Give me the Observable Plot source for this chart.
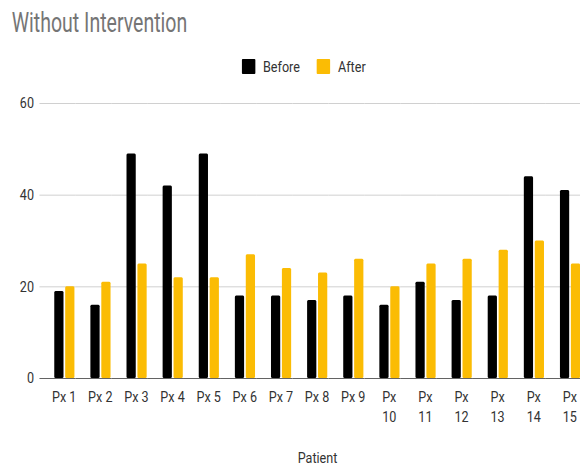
<!DOCTYPE html>
<html><head><meta charset="utf-8">
<script src="https://cdn.jsdelivr.net/npm/d3@7"></script>
<script src="https://cdn.jsdelivr.net/npm/@observablehq/plot@0.6"></script>
<style>
html,body{margin:0;padding:0;background:#fff;overflow:hidden;}
#wrap{position:relative;width:580px;height:466px;overflow:hidden;background:#fff;}
#scaled{position:absolute;left:0;top:0;width:692px;height:466px;transform:scaleX(0.84);transform-origin:0 0;}
#chart{position:absolute;left:0;top:0;}
.txt{position:absolute;font-family:Roboto,"Liberation Sans",sans-serif;white-space:nowrap;}
#title{left:14.3px;top:9px;font-size:28px;line-height:28px;color:#757575;transform:scaleX(0.83);transform-origin:0 0;}
#legend{position:absolute;left:0;top:0;}
.sw{position:absolute;width:15.5px;height:15px;border-radius:1px;}
.lg{font-size:15px;line-height:15px;color:#333;}
#xlab{font-size:15px;line-height:15px;color:#333;top:451px;left:278px;width:200px;text-align:center;}
</style></head>
<body><div id="wrap"><div id="scaled">
<div id="chart"></div>
<div id="title" class="txt">Without Intervention</div>
<div id="legend"></div>
<div id="xlab" class="txt">Patient</div>
</div></div>
<script>
const patients = ["Px 1","Px 2","Px 3","Px 4","Px 5","Px 6","Px 7","Px 8","Px 9","Px 10","Px 11","Px 12","Px 13","Px 14","Px 15"];
const tickLabels = ["Px 1","Px 2","Px 3","Px 4","Px 5","Px 6","Px 7","Px 8","Px 9","Px\n10","Px\n11","Px\n12","Px\n13","Px\n14","Px\n15"];
const before = [19,16,49,42,49,18,18,17,18,16,21,17,18,44,41];
const after = [20,21,25,22,22,27,24,23,26,20,25,26,28,30,25];
const series = ["Before","After"];
const colors = ["#000000","#fbbc04"];
const yTicks = [0,20,40,60];

const rows = patients.flatMap((p, i) => [
  {patient: p, label: tickLabels[i], series: series[0], value: before[i]},
  {patient: p, label: tickLabels[i], series: series[1], value: after[i]}
]);

const font = 'Roboto,"Liberation Sans",sans-serif';

const chart = Plot.plot({
  width: 692,
  height: 466,
  marginTop: 103,
  marginBottom: 88,
  marginLeft: 46.4,
  marginRight: 0,
  style: {fontFamily: font, fontSize: "15px", color: "#333", background: "transparent", overflow: "visible"},
  facet: {data: rows, x: "patient"},
  fx: {domain: patients, padding: 0, axis: null, label: null},
  x: {domain: series, range: [63.45, 87.26], paddingInner: 2/11, paddingOuter: 0, axis: null},
  y: {domain: [0, 60], ticks: yTicks, tickSize: 0, tickPadding: 7, label: null},
  color: {domain: series, range: colors},
  marks: [
    Plot.ruleY(yTicks.filter(v => v > 0), {stroke: "#cccccc"}),
    Plot.barY(rows, {x: "series", y: "value", fill: "series", rx: 1.5}),
    Plot.ruleY([0], {stroke: "#555"}),
    Plot.text(rows, {filter: d => d.series === series[0], text: "label", frameAnchor: "bottom", lineAnchor: "top", dy: 9, dx: 7.4, lineHeight: 1.333, fill: "#333"})
  ]
});
document.getElementById("chart").appendChild(chart);

const legend = document.getElementById("legend");
const lx = [288.1, 377.4];
series.forEach((s, i) => {
  const sw = document.createElement("div");
  sw.className = "sw";
  sw.style.left = lx[i] + "px";
  sw.style.top = "59px";
  sw.style.background = colors[i];
  legend.appendChild(sw);
  const t = document.createElement("div");
  t.className = "txt lg";
  t.style.left = (lx[i] + 25) + "px";
  t.style.top = "60px";
  t.textContent = s;
  legend.appendChild(t);
});
</script>
</body></html>
